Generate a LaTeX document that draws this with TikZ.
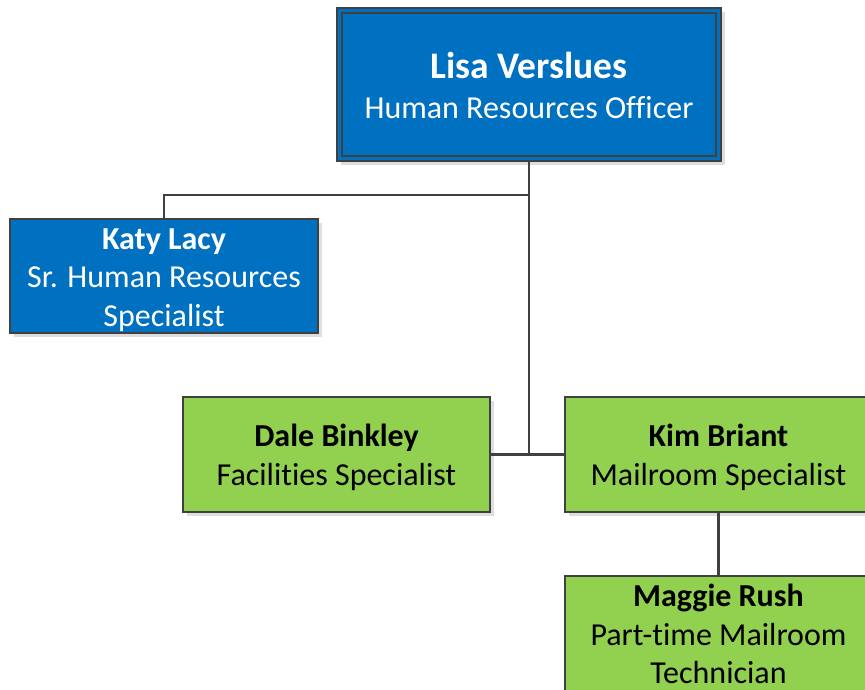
\documentclass[tikz,border=0pt]{standalone}
\usepackage{fontspec}
\setmainfont{Carlito}[Ligatures={NoCommon,NoContextual},Contextuals=NoAlternate]
\usetikzlibrary{shadows}
\definecolor{hrblue}{HTML}{0070C0}
\definecolor{hrgreen}{HTML}{92D050}
\definecolor{edge}{HTML}{404040}
\newcommand\firstline{\rule{0pt}{35pt}}
\newcommand\firstofthree{\rule{0pt}{30pt}}
\newcommand\lastofthree[1]{\smash{#1}\rule[-6.5pt]{0pt}{6.5pt}}
\tikzset{
  person/.style={draw=edge, line width=1.3pt, inner sep=0pt, outer sep=0pt,
    align=center, font=\fontsize{32}{38.5}\selectfont,
    drop shadow={shadow xshift=4pt, shadow yshift=-4pt, fill=black!13, opacity=1}},
  bluebox/.style={person, fill=hrblue, text=white},
  greenbox/.style={person, fill=hrgreen, text=black},
  link/.style={draw=edge, line width=2.6pt},
}
\begin{document}
\begin{tikzpicture}[x=1pt,y=-1pt]
\useasboundingbox (0,0) rectangle (865,690);
\clip (0,0) rectangle (865,690);
\fill[white] (0,0) rectangle (865,690);
% connectors
\coordinate (j1) at (529,195);
\coordinate (j2) at (529,455);
\node[bluebox, minimum width=384pt, minimum height=153pt, font=\fontsize{32}{40}\selectfont] (lisa) at (529,84.5) {\rule{0pt}{40pt}{\fontsize{37.5}{40}\selectfont\textbf{Lisa Verslues}}\\\strut Human Resources Officer};
\node[bluebox, minimum width=308pt, minimum height=114pt] (katy) at (164,276) {\firstofthree\textbf{Katy Lacy}\\Sr. Human Resources\\\lastofthree{Specialist}};
\node[greenbox, minimum width=307pt, minimum height=115pt] (dale) at (336.5,454.5) {\firstline\textbf{Dale Binkley}\\\strut Facilities Specialist};
\node[greenbox, minimum width=307pt, minimum height=115pt] (kim) at (718.5,454.5) {\firstline\textbf{Kim Briant}\\\strut Mailroom Specialist};
\node[greenbox, minimum width=307pt, minimum height=115pt] (maggie) at (718.5,633.5) {\firstofthree\textbf{Maggie Rush}\\Part-time Mailroom\\\lastofthree{Technician}};
\draw[draw=edge, line width=1.3pt] ([xshift=5pt,yshift=-5pt]lisa.north west) rectangle ([xshift=-5pt,yshift=5pt]lisa.south east);
\draw[link] (lisa.south) -- (j2);
\draw[link] (j1) -| (katy.north);
\draw[link] (dale.east) -- (kim.west);
\draw[link] (kim.south) -- (maggie.north);
\end{tikzpicture}
\end{document}
